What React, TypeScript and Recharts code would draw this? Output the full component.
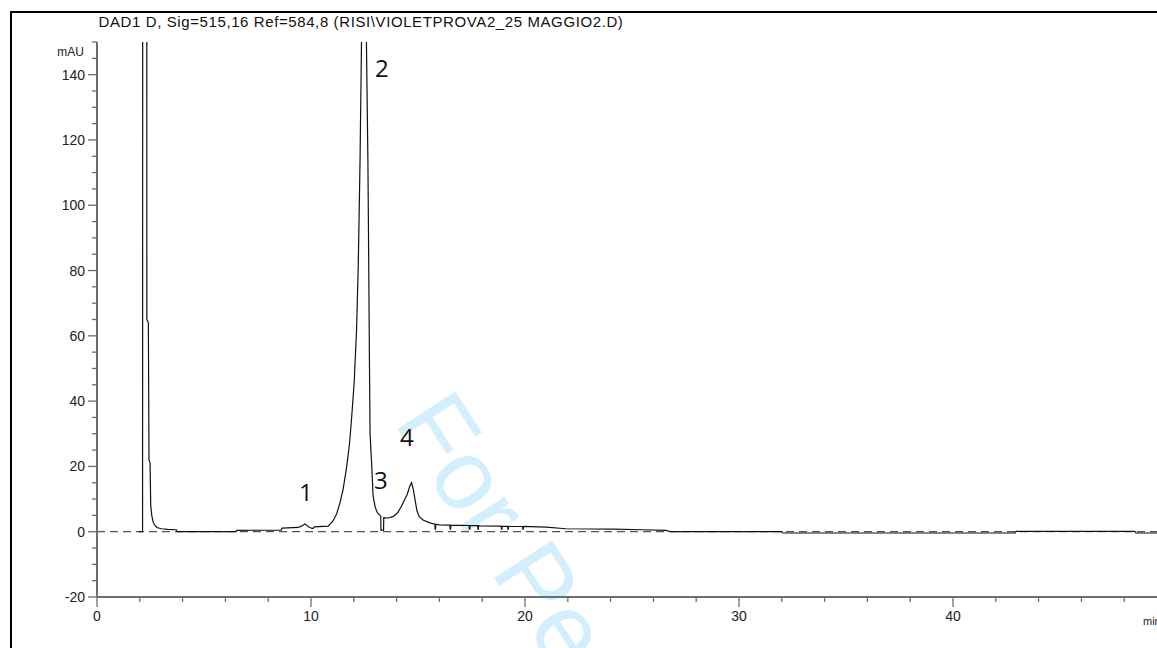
import { LineChart, Line, XAxis, YAxis, ReferenceLine } from 'recharts';

// retention time (min) and absorbance (mAU)
const TIME = [
  1.95, 2.13, 2.16, 2.3, 2.33, 2.4, 2.43, 2.48, 2.51, 2.56, 2.62, 2.7, 2.8, 3.0, 3.3, 3.7, 3.75,
  6.5, 6.52, 8.6, 8.65, 9.4, 9.55, 9.72, 9.88, 10.05, 10.1, 10.15, 10.8,
  11.03, 11.2, 11.36, 11.5, 11.67, 11.8, 11.9, 12.02, 12.13, 12.21, 12.29, 12.36, 12.4,
  12.54, 12.59, 12.66, 12.7, 12.73, 12.76, 12.84, 12.9, 13.0, 13.1, 13.22, 13.26, 13.27,
  13.39, 13.4, 13.6, 13.85, 14.05, 14.2, 14.35, 14.5, 14.62, 14.7, 14.78, 14.86, 14.95,
  15.05, 15.25, 15.56, 15.79, 15.8, 15.82, 15.83, 16.0, 16.49, 16.5, 16.52, 16.53,
  17.39, 17.4, 17.42, 17.43, 17.79, 17.8, 17.82, 17.83, 17.9, 18.89, 18.9, 18.92, 18.93,
  19.19, 19.2, 19.22, 19.23, 19.89, 19.9, 19.92, 19.93,
  21.0, 21.9, 24.1, 25.5, 26.6, 26.8, 32.0, 32.05,
  42.9, 42.95, 48.5, 48.55, 50,
];
const SIGNAL = [
  0, 0, 1000, 1000, 65, 64, 22, 21, 8, 5, 3, 2, 1.3, 0.9, 0.7, 0.6, 0,
  0, 0.4, 0.5, 1.1, 1.3, 1.7, 2.4, 1.5, 1.0, 1.0, 1.5, 1.7,
  3.3, 5.5, 9, 13, 20, 27, 35, 46, 62, 82, 113, 150, 400,
  400, 150, 113, 80, 53, 30, 20, 11, 7.5, 5.8, 5, 4.8, 0.5,
  0.5, 4.3, 4.2, 4.7, 5.8, 7.5, 9.5, 11.5, 14, 15, 13, 9.8, 6.5,
  4.7, 3.5, 2.7, 2.3, 0.8, 0.8, 2.3, 2.1, 2.0, 0.8, 0.8, 2.0,
  1.9, 0.8, 0.8, 1.9, 1.85, 0.8, 0.8, 1.85, 1.8, 1.7, 0.8, 0.8, 1.7,
  1.65, 0.8, 0.8, 1.65, 1.6, 0.8, 0.8, 1.6,
  1.4, 0.9, 0.8, 0.6, 0.4, 0, 0, -0.4,
  -0.4, 0.1, 0.1, -0.4, -0.4,
];

const X_TICKS = [0, 2, 4, 6, 8, 10, 12, 14, 16, 18, 20, 22, 24, 26, 28, 30, 32, 34, 36, 38, 40, 42, 44, 46, 48, 50];
const Y_TICKS = [-20, -15, -10, -5, 0, 5, 10, 15, 20, 25, 30, 35, 40, 45, 50, 55, 60, 65, 70, 75, 80, 85, 90, 95, 100, 105, 110, 115, 120, 125, 130, 135, 140, 145, 150];

const PEAKS = [
  { label: '1', x: 299, y: 501 },
  { label: '2', x: 375, y: 77 },
  { label: '3', x: 374, y: 489 },
  { label: '4', x: 400, y: 446 },
];

const TITLE = 'DAD1 D, Sig=515,16 Ref=584,8 (RISI\\VIOLETPROVA2_25 MAGGIO2.D)';

const data = TIME.map((t, i) => ({ t, v: SIGNAL[i] }));

const AXIS = '#6e6e6e';
const FONT = 'Arial, "Liberation Sans", sans-serif';

function YTick(props: any) {
  const { x, y, payload } = props;
  const major = payload.value % 20 === 0;
  return (
    <g>
      <line x1={x - (major ? 9 : 5)} x2={x} y1={y} y2={y} stroke={AXIS} strokeWidth={1.3} />
      {major && (
        <text x={x - 12} y={y + 5} textAnchor="end" fontSize={14} fontFamily={FONT} fill="#222">
          {payload.value}
        </text>
      )}
    </g>
  );
}

function XTick(props: any) {
  const { x, y, payload } = props;
  const major = payload.value % 10 === 0;
  return (
    <g>
      <line x1={x} x2={x} y1={y} y2={y + (major ? 10 : 5)} stroke={AXIS} strokeWidth={1.3} />
      {major && (
        <text x={x} y={y + 24} textAnchor="middle" fontSize={14} fontFamily={FONT} fill="#222">
          {payload.value}
        </text>
      )}
    </g>
  );
}

export default function App() {
  return (
    <div style={{ position: 'absolute', left: 0, top: 0, width: 1157, height: 648, overflow: 'hidden', background: '#fff' }}>
      <svg width={1157} height={648} style={{ position: 'absolute', left: 0, top: 0 }}>
        <text
          x={393}
          y={422}
          transform="rotate(57 393 422)"
          fontSize={100}
          fontFamily={FONT}
          fill="#d3effd"
        >
          For Peer Review
        </text>
      </svg>
      <div style={{ position: 'absolute', left: 0, top: 0 }}>
        <LineChart width={1180} height={648} data={data} margin={{ top: 42, right: 13, bottom: 21, left: 37 }}>
          <XAxis
            dataKey="t"
            type="number"
            domain={[0, 50]}
            ticks={X_TICKS}
            interval={0}
            height={30}
            tickSize={0}
            tickMargin={0}
            tickLine={false}
            axisLine={{ stroke: AXIS, strokeWidth: 2 }}
            tick={<XTick />}
          />
          <YAxis
            type="number"
            domain={[-20, 150]}
            allowDataOverflow
            ticks={Y_TICKS}
            interval={0}
            width={60}
            tickSize={0}
            tickMargin={0}
            tickLine={false}
            axisLine={{ stroke: AXIS, strokeWidth: 2 }}
            tick={<YTick />}
          />
          <ReferenceLine y={0} stroke="#555" strokeDasharray="8 5" strokeWidth={1.2} />
          <Line
            dataKey="v"
            type="linear"
            stroke="#111"
            strokeWidth={1.2}
            dot={false}
            isAnimationActive={false}
          />
        </LineChart>
      </div>
      <svg width={1157} height={648} style={{ position: 'absolute', left: 0, top: 0, pointerEvents: 'none' }}>
        <line x1={10} x2={1157} y1={12} y2={12} stroke="#000" strokeWidth={2} />
        <line x1={11} x2={11} y1={12} y2={648} stroke="#000" strokeWidth={2} />
        <text x={361} y={27} textAnchor="middle" fontSize={15} letterSpacing={0.6} fontFamily={FONT} fill="#111">
          {TITLE}
        </text>
        <text x={84} y={56} textAnchor="end" fontSize={12} fontFamily={FONT} fill="#222">
          mAU
        </text>
        <text x={1143} y={625} fontSize={11} fontFamily={FONT} fill="#222">
          min
        </text>
        {PEAKS.map((p) => (
          <text key={p.label} x={p.x} y={p.y} fontSize={24} fontFamily='"Open Sans", "Noto Sans", sans-serif' fill="#111">
            {p.label}
          </text>
        ))}
      </svg>
    </div>
  );
}
